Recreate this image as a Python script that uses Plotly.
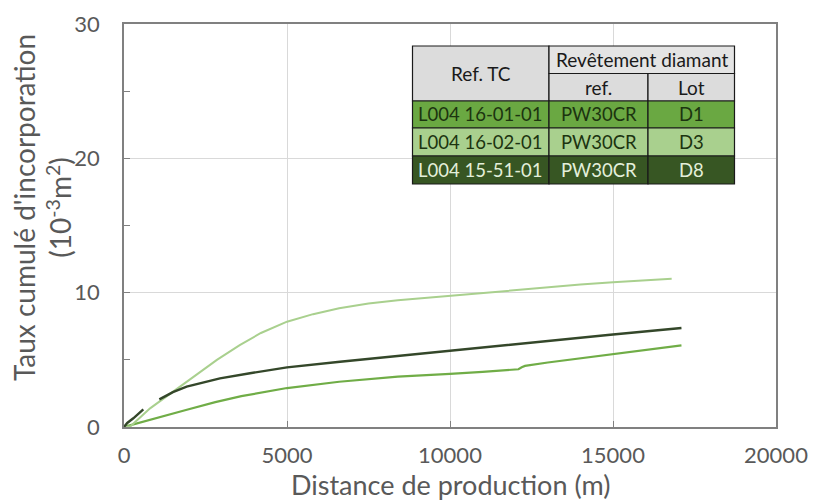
import plotly.graph_objects as go

# ---- data ----
d1_x = [0, 150, 900, 1900, 2800, 3600, 5000, 6600, 8400, 9100, 10000, 11000, 12100, 12200, 12300, 13000, 14000, 15000, 16000, 17100]
d1_y = [0, 0.1, 0.65, 1.27, 1.85, 2.3, 2.9, 3.37, 3.75, 3.82, 3.95, 4.1, 4.3, 4.45, 4.55, 4.8, 5.1, 5.4, 5.75, 6.07]

d3_x = [0, 200, 800, 1500, 2200, 2850, 3550, 4200, 5000, 5800, 6600, 7500, 8400, 9100, 10000, 11000, 12000, 13000, 14000, 15000, 16000, 16800]
d3_y = [0, 0.05, 1.39, 2.63, 3.9, 5.0, 6.1, 7.0, 7.84, 8.4, 8.84, 9.2, 9.43, 9.58, 9.78, 10.0, 10.2, 10.4, 10.6, 10.77, 10.92, 11.04]

d8_x = [0, 100, 286, 450, 593, None, 1084, 1500, 1922, 2944, 3864, 5000, 6626, 8400, 9080, 10000, 12000, 14918, 17100]
d8_y = [0, 0.3, 0.65, 1.0, 1.32, None, 2.06, 2.6, 3.0, 3.62, 4.0, 4.44, 4.86, 5.3, 5.43, 5.69, 6.2, 6.87, 7.37]

x_ticks = [0, 5000, 10000, 15000, 20000]
y_ticks = [0, 10, 20, 30]

table_header_top = ["Ref. TC", "Revêtement diamant"]
table_header_sub = ["ref.", "Lot"]
table_rows = [
    ["L004 16-01-01", "PW30CR", "D1"],
    ["L004 16-02-01", "PW30CR", "D3"],
    ["L004 15-51-01", "PW30CR", "D8"],
]

# ---- styles ----
FONT = "Lato"
C_D1 = "#70ad47"
C_D3 = "#a9d08e"
C_D8 = "#34472a"
ROW_BG = ["#6aa842", "#a9d08e", "#375623"]
ROW_FG = ["#1c3410", "#1c3410", "#e3efda"]
HEAD_BG = "#dcdcdc"
AX = "#808080"
TXT = "#595959"

fig = go.Figure()
fig.add_trace(go.Scatter(x=d1_x, y=d1_y, mode="lines", line=dict(color=C_D1, width=2.2), name="D1"))
fig.add_trace(go.Scatter(x=d3_x, y=d3_y, mode="lines", line=dict(color=C_D3, width=2.0), name="D3"))
fig.add_trace(go.Scatter(x=d8_x, y=d8_y, mode="lines", line=dict(color=C_D8, width=2.4), name="D8", connectgaps=False))

W, H = 813, 502
L, R, T, B = 124, 37, 24, 75
PW, PH = W - L - R, H - T - B


def px(x):
    return (x - L) / PW


def py(y):
    return (H - B - y) / PH


# table geometry (pixels in the screenshot)
cols = [412.5, 549, 648, 734.5]
rows = [46, 73.5, 101, 128, 156, 184]

shapes = []
annots = []


def cell(x0, x1, y0, y1, fill, text, color, size):
    shapes.append(dict(type="rect", xref="paper", yref="paper",
                       x0=px(x0), x1=px(x1), y0=py(y1), y1=py(y0),
                       fillcolor=fill, line=dict(color="#1a1a1a", width=1.2), layer="above"))
    annots.append(dict(xref="paper", yref="paper", x=px((x0 + x1) / 2), y=py((y0 + y1) / 2),
                       text=text, showarrow=False, xanchor="center", yanchor="middle",
                       font=dict(family=FONT, size=size, color=color)))


cell(cols[0], cols[1], rows[0], rows[2], HEAD_BG, table_header_top[0], "#1a1a1a", 19)
cell(cols[1], cols[3], rows[0], rows[1], "#e4e4e4", table_header_top[1], "#1a1a1a", 19)
cell(cols[1], cols[2], rows[1], rows[2], HEAD_BG, table_header_sub[0], "#1a1a1a", 19)
cell(cols[2], cols[3], rows[1], rows[2], HEAD_BG, table_header_sub[1], "#1a1a1a", 19)
for i, r in enumerate(table_rows):
    for j in range(3):
        cell(cols[j], cols[j + 1], rows[2 + i], rows[3 + i], ROW_BG[i], r[j], ROW_FG[i], 18.5)

# axis titles
annots.append(dict(xref="paper", yref="paper", x=0.5, y=py(484), text="Distance de production (m)",
                   showarrow=False, xanchor="center", yanchor="middle",
                   font=dict(family=FONT, size=27, color=TXT)))
annots.append(dict(xref="paper", yref="paper", x=px(42), y=py(208),
                   text="Taux cumulé d'incorporation<br>(10<sup>-3</sup>m<sup>2</sup>)",
                   showarrow=False, xanchor="center", yanchor="middle", textangle=-90,
                   font=dict(family=FONT, size=28, color=TXT)))

fig.update_layout(
    width=W, height=H,
    margin=dict(l=L, r=R, t=T, b=B, autoexpand=False),
    paper_bgcolor="white", plot_bgcolor="white",
    showlegend=False,
    shapes=shapes, annotations=annots,
    font=dict(family=FONT, color=TXT),
)
fig.update_xaxes(range=[0, 20000], tickvals=x_ticks, ticktext=[str(v) for v in x_ticks],
                 showgrid=True, gridcolor="#d9d9d9", gridwidth=1,
                 showline=True, linecolor=AX, linewidth=1.5, mirror=True,
                 ticks="inside", ticklen=6, tickcolor=AX, automargin=False,
                 tickfont=dict(family=FONT, size=22, color=TXT), ticklabelstandoff=8,
                 zeroline=False)
fig.update_yaxes(range=[0, 30], tickvals=y_ticks, ticktext=[str(v) for v in y_ticks],
                 showgrid=True, gridcolor="#d9d9d9", gridwidth=1,
                 showline=True, linecolor=AX, linewidth=1.5, mirror=True,
                 ticks="inside", ticklen=6, tickcolor=AX, automargin=False,
                 minor=dict(dtick=5, ticks="inside", ticklen=6, tickcolor=AX, showgrid=False),
                 tickfont=dict(family=FONT, size=22, color=TXT), ticklabelstandoff=18,
                 zeroline=False)

# remove the browser's default 8px page margin so the figure fills the window exactly
fig.write_html("out.html", config={"displayModeBar": False},
               post_script="document.body.style.margin='0';document.body.style.overflow='hidden';")
